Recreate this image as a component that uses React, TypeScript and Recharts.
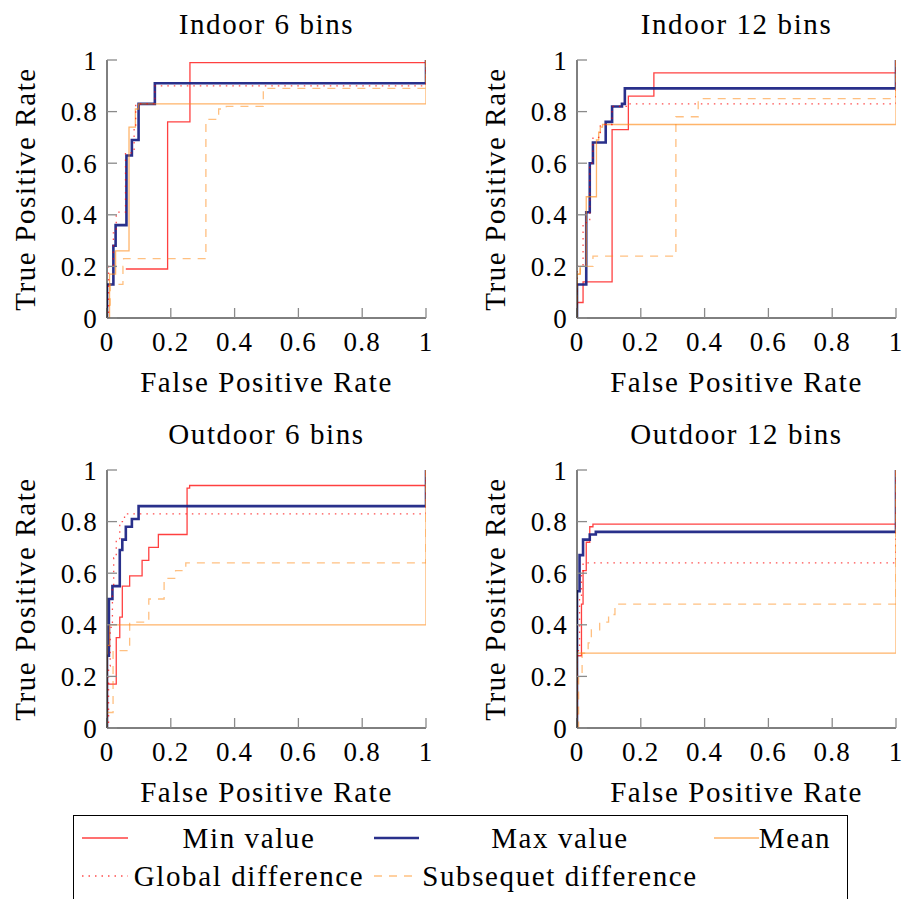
import React from "react";
import { LineChart, Line, XAxis, YAxis, Label } from "recharts";

type Pt = [number, number];

// ROC curves as (false positive rate, true positive rate) steps
const indoor6Min: Pt[] = [[0.059, 0.19], [0.19, 0.76], [0.26, 0.99], [1, 1]];
const indoor6Max: Pt[] = [[0, 0], [0, 0.13], [0.02, 0.28], [0.027, 0.36], [0.061, 0.63], [0.078, 0.69], [0.099, 0.83], [0.15, 0.91], [1, 1]];
const indoor6Mean: Pt[] = [[0, 0], [0.008, 0.17], [0.027, 0.26], [0.069, 0.74], [0.089, 0.81], [0.099, 0.83], [1, 1]];
const indoor6Global: Pt[] = [[0, 0], [0.005, 0.2], [0.02, 0.33], [0.029, 0.41], [0.058, 0.64], [0.085, 0.74], [0.09, 0.83], [0.15, 0.9], [1, 1]];
const indoor6Subseq: Pt[] = [[0, 0], [0, 0.05], [0.01, 0.13], [0.05, 0.2], [0.052, 0.23], [0.31, 0.77], [0.35, 0.81], [0.374, 0.82], [0.49, 0.89], [1, 1]];

const indoor12Min: Pt[] = [[0, 0], [0, 0.06], [0.019, 0.14], [0.11, 0.73], [0.161, 0.86], [0.241, 0.95], [1, 1]];
const indoor12Max: Pt[] = [[0, 0], [0, 0.13], [0.029, 0.41], [0.04, 0.6], [0.05, 0.68], [0.09, 0.76], [0.11, 0.82], [0.141, 0.83], [0.15, 0.89], [1, 1]];
const indoor12Mean: Pt[] = [[0, 0], [0, 0.17], [0.01, 0.2], [0.029, 0.47], [0.061, 0.69], [0.068, 0.72], [0.073, 0.74], [0.08, 0.75], [1, 1]];
const indoor12Global: Pt[] = [[0, 0], [0, 0.2], [0.019, 0.37], [0.04, 0.6], [0.05, 0.7], [0.073, 0.75], [0.11, 0.82], [0.163, 0.83], [1, 1]];
const indoor12Subseq: Pt[] = [[0, 0], [0, 0.17], [0.01, 0.2], [0.05, 0.24], [0.31, 0.78], [0.38, 0.85], [1, 1]];

const outdoor6Min: Pt[] = [[0, 0], [0, 0.17], [0.029, 0.35], [0.04, 0.43], [0.048, 0.55], [0.071, 0.59], [0.11, 0.65], [0.131, 0.7], [0.161, 0.75], [0.251, 0.93], [0.259, 0.94], [1, 1]];
const outdoor6Max: Pt[] = [[0, 0], [0, 0.28], [0.006, 0.5], [0.017, 0.55], [0.04, 0.69], [0.048, 0.73], [0.059, 0.78], [0.078, 0.81], [0.099, 0.86], [1, 1]];
const outdoor6Mean: Pt[] = [[0, 0], [0, 0.32], [0.008, 0.4], [1, 1]];
const outdoor6Global: Pt[] = [[0, 0], [0.005, 0.24], [0.01, 0.39], [0.017, 0.54], [0.021, 0.66], [0.029, 0.73], [0.04, 0.8], [0.055, 0.82], [0.06, 0.83], [1, 1]];
const outdoor6Subseq: Pt[] = [[0, 0], [0, 0.06], [0.019, 0.3], [0.071, 0.41], [0.131, 0.5], [0.179, 0.58], [0.215, 0.61], [0.247, 0.64], [1, 1]];

const outdoor12Min: Pt[] = [[0, 0], [0, 0.28], [0.014, 0.48], [0.019, 0.61], [0.029, 0.72], [0.04, 0.78], [0.05, 0.79], [1, 1]];
const outdoor12Max: Pt[] = [[0, 0], [0, 0.53], [0.008, 0.67], [0.019, 0.73], [0.04, 0.75], [0.059, 0.76], [1, 1]];
const outdoor12Mean: Pt[] = [[0, 0], [0, 0.29], [1, 1]];
const outdoor12Global: Pt[] = [[0, 0], [0, 0.3], [0.008, 0.5], [0.014, 0.6], [0.019, 0.64], [1, 1]];
const outdoor12Subseq: Pt[] = [[0, 0], [0.005, 0.2], [0.016, 0.29], [0.035, 0.33], [0.045, 0.38], [0.071, 0.41], [0.099, 0.44], [0.119, 0.48], [1, 1]];

const axisTicks = [0, 0.2, 0.4, 0.6, 0.8, 1];
const seriesNames = ["Min value", "Max value", "Mean", "Global difference", "Subsequet difference"];
const panelTitles = ["Indoor 6 bins", "Indoor 12 bins", "Outdoor 6 bins", "Outdoor 12 bins"];

const FONT = "'Liberation Serif', 'DejaVu Serif', serif";

const lineStyles = [
  { stroke: "#ff0000", width: 1.3, opacity: 0.75, dash: undefined },
  { stroke: "#1d2585", width: 2.6, opacity: 0.95, dash: undefined },
  { stroke: "#ff8c1a", width: 1.3, opacity: 0.65, dash: undefined },
  { stroke: "#ff0000", width: 1.3, opacity: 0.7, dash: "1.5 5" },
  { stroke: "#ff8c1a", width: 1.3, opacity: 0.55, dash: "8 7" },
];

const panels = [
  { title: panelTitles[0], left: 0, top: 0, series: [indoor6Min, indoor6Max, indoor6Mean, indoor6Global, indoor6Subseq] },
  { title: panelTitles[1], left: 470, top: 0, series: [indoor12Min, indoor12Max, indoor12Mean, indoor12Global, indoor12Subseq] },
  { title: panelTitles[2], left: 0, top: 410, series: [outdoor6Min, outdoor6Max, outdoor6Mean, outdoor6Global, outdoor6Subseq] },
  { title: panelTitles[3], left: 470, top: 410, series: [outdoor12Min, outdoor12Max, outdoor12Mean, outdoor12Global, outdoor12Subseq] },
];

const toPoints = (pts: Pt[]) => pts.map(([x, y]) => ({ x, y }));
const fmt = (v: number) => String(v);
const tickStyle = { fontFamily: FONT, fontSize: 27, fill: "#000", letterSpacing: "1.2px" };
const textStyle = { fontFamily: FONT, fontSize: 29, fill: "#000", letterSpacing: "1.6px" };
const tickLineStyle = { stroke: "#8a8a8a", strokeWidth: 1.3 };

const Panel = ({ title, left, top, series }: { title: string; left: number; top: number; series: Pt[][] }) => (
  <div style={{ position: "absolute", left, top, width: 450, height: 410 }}>
    <div
      style={{
        position: "absolute", left: 107, width: 319, top: 7, textAlign: "center",
        fontFamily: FONT, fontSize: 29, lineHeight: "34px", color: "#000", letterSpacing: "1.6px",
      }}
    >
      {title}
    </div>
    <LineChart width={450} height={410} margin={{ top: 60, right: 24, left: 7, bottom: 0 }}>
      <XAxis
        dataKey="x" type="number" domain={[0, 1]} ticks={axisTicks} interval={0}
        height={92} tickSize={-10} tickMargin={24} stroke="#000" tickLine={tickLineStyle}
        tick={tickStyle} tickFormatter={fmt} allowDataOverflow
      >
        <Label value="False Positive Rate" position="insideTop" offset={53} style={textStyle} />
      </XAxis>
      <XAxis
        xAxisId="top" orientation="top" dataKey="x" type="number" domain={[0, 1]} ticks={axisTicks}
        interval={0} height={0} tickSize={-10} stroke="#000" tickLine={tickLineStyle} tick={false}
      />
      <YAxis
        type="number" domain={[0, 1]} ticks={axisTicks} interval={0} width={100}
        tickSize={-10} tickMargin={19} stroke="#000" tickLine={tickLineStyle}
        tick={tickStyle} tickFormatter={fmt} allowDataOverflow
      >
        <Label
          value="True Positive Rate" position="insideLeft" angle={-90} offset={18}
          style={{ ...textStyle, textAnchor: "middle" }}
        />
      </YAxis>
      <YAxis
        yAxisId="right" orientation="right" type="number" domain={[0, 1]} ticks={axisTicks}
        interval={0} width={0} tickSize={-10} stroke="#000" tickLine={tickLineStyle} tick={false}
      />
      {series.map((s, i) => (
        <Line
          key={seriesNames[i]}
          name={seriesNames[i]}
          data={toPoints(s)}
          dataKey="y"
          type="stepAfter"
          stroke={lineStyles[i].stroke}
          strokeWidth={lineStyles[i].width}
          strokeOpacity={lineStyles[i].opacity}
          strokeDasharray={lineStyles[i].dash}
          dot={false}
          activeDot={false}
          isAnimationActive={false}
        />
      ))}
    </LineChart>
  </div>
);

// legend cells: [sample start, sample end, text centre] for each column
const legendCols = [
  [9, 55, 176],
  [301, 346, 487],
  [641, 686, 722],
];
const legendRows = [23, 61];

const ChartLegend = () => (
  <svg width={776} height={90} style={{ position: "absolute", left: 73, top: 815 }}>
    <rect x={0.5} y={0.5} width={774} height={88} fill="none" stroke="#000" strokeWidth={1} />
    {seriesNames.map((name, i) => {
      const [x1, x2, tx] = legendCols[i % 3];
      const y = legendRows[Math.floor(i / 3)];
      const st = lineStyles[i];
      return (
        <g key={name}>
          <line
            x1={x1} x2={x2} y1={y} y2={y} stroke={st.stroke} strokeWidth={st.width}
            strokeOpacity={st.opacity} strokeDasharray={st.dash}
          />
          <text x={tx} y={y} dy="0.35em" textAnchor="middle" style={textStyle}>
            {name}
          </text>
        </g>
      );
    })}
  </svg>
);

export default function App() {
  return (
    <div style={{ position: "absolute", left: 0, top: 0, width: 904, height: 899, overflow: "hidden", background: "#fff" }}>
      {panels.map((p) => (
        <Panel key={p.title} {...p} />
      ))}
      <ChartLegend />
    </div>
  );
}
